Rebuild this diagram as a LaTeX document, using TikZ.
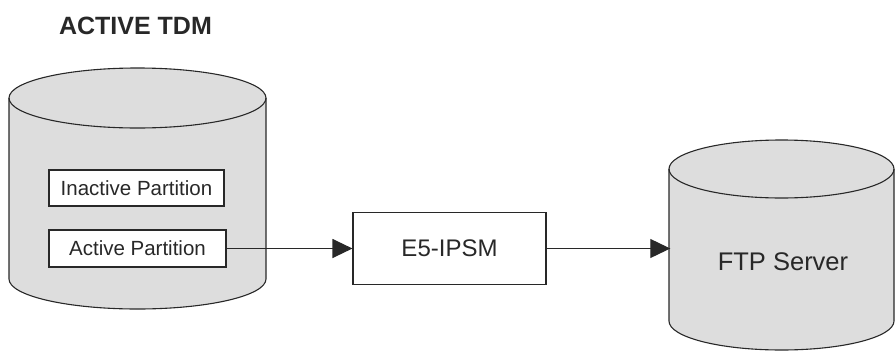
\documentclass[tikz,border=0pt]{standalone}
\usepackage{fontspec}
\setmainfont{Liberation Sans}
\usetikzlibrary{arrows.meta}
\definecolor{cylfill}{RGB}{221,221,221}
\definecolor{ink}{RGB}{40,40,40}
\tikzset{
  outline/.style={draw=ink, line width=1.1pt},
  cylbody/.style={outline, fill=cylfill},
  partbox/.style={outline, fill=white, inner sep=0pt, text=ink, font=\fontsize{20.5}{24}\selectfont},
  procbox/.style={outline, fill=white, inner sep=0pt, text=ink, font=\fontsize{24}{28}\selectfont},
  conn/.style={draw=ink, line width=1.1pt, -{Triangle[length=20pt,width=19pt]}},
}
\begin{document}
\begin{tikzpicture}[x=1pt,y=1pt]
\useasboundingbox (0,0) rectangle (896,-351);
% title
\node[font=\bfseries\fontsize{25}{29}\selectfont, text=ink] (title) at (135.5,-26) {ACTIVE TDM};
% left cylinder
\path[cylbody] (9,-98) -- (9,-279)
  arc[start angle=180,end angle=360,x radius=128.5,y radius=30]
  -- (266,-98)
  arc[start angle=0,end angle=180,x radius=128.5,y radius=30] -- cycle;
\draw[outline] (9,-98) arc[start angle=180,end angle=360,x radius=128.5,y radius=30];
% right cylinder
\path[cylbody] (669,-169) -- (669,-321)
  arc[start angle=180,end angle=360,x radius=112.5,y radius=29]
  -- (894,-169)
  arc[start angle=0,end angle=180,x radius=112.5,y radius=29] -- cycle;
\draw[outline] (669,-169) arc[start angle=180,end angle=360,x radius=112.5,y radius=29];
% nodes
\node[partbox, minimum width=175pt, minimum height=36pt] (inact) at (136.5,-188) {Inactive Partition};
\node[partbox, minimum width=177pt, minimum height=37pt] (act) at (137.5,-248.5) {Active Partition};
\node[procbox, minimum width=193pt, minimum height=72pt] (e5) at (449.5,-248.5) {E5-IPSM};
\node[inner sep=0pt, minimum width=225pt, text=ink, font=\fontsize{25.5}{29}\selectfont] (ftp) at (783,-262) {FTP Server};
% connectors
\draw[conn] (act.east) -- (e5.west);
\draw[conn] (e5.east) -- (e5.east -| ftp.west);
\end{tikzpicture}
\end{document}
